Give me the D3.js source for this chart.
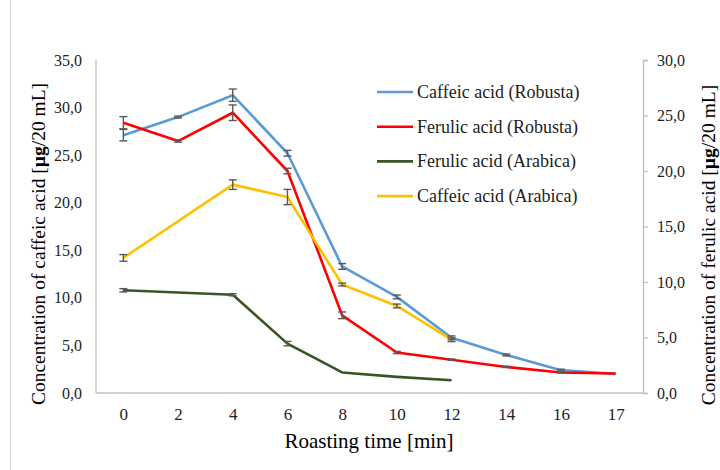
<!DOCTYPE html>
<html>
<head>
<meta charset="utf-8">
<script src="https://cdn.jsdelivr.net/npm/d3@7"></script>
<style>
  body { margin: 0; background: #fff; }
  svg { display: block; font-family: "Liberation Serif", "Times New Roman", serif; }
</style>
</head>
<body>
<div id="chart"></div>
<script>
// roasting time categories
const times = ['0', '2', '4', '6', '8', '10', '12', '14', '16', '17'];

// caffeic acid -> left axis, ferulic acid -> right axis
const caffeicRobusta = [27.1, 29.0, 31.3, 25.2, 13.3, 10.1, 5.8, 4.0, 2.4, 2.0];
const caffeicRobustaErr = [0.6, 0.1, 0.65, 0.3, 0.3, 0.2, 0.2, 0.1, 0.1, 0];
const ferulicRobusta = [24.35, 22.7, 25.25, 20.0, 7.0, 3.65, 3.0, 2.35, 1.85, 1.75];
const ferulicRobustaErr = [0.55, 0.1, 0.7, 0.25, 0.3, 0.1, 0.05, 0.05, 0.05, 0];
const ferulicArabica = [9.25, null, 8.85, 4.45, 1.85, 1.45, 1.15, null, null, null];
const ferulicArabicaErr = [0.15, 0, 0.1, 0.2, 0, 0, 0, 0, 0, 0];
const caffeicArabica = [14.2, null, 21.9, 20.6, 11.4, 9.15, 5.6, null, null, null];
const caffeicArabicaErr = [0.35, 0, 0.5, 0.8, 0.15, 0.2, 0.2, 0, 0, 0];

const leftTicks = [0, 5, 10, 15, 20, 25, 30, 35];
const rightTicks = [0, 5, 10, 15, 20, 25, 30];

const width = 720, height = 470;
const plot = { left: 96, right: 643, top: 60, bottom: 393 };

const svg = d3.select('#chart')
    .append('svg')
    .attr('width', width)
    .attr('height', height);

// chart frame edge
svg.append('line')
    .attr('x1', 10.5).attr('x2', 10.5)
    .attr('y1', 0).attr('y2', height)
    .attr('stroke', '#d9d9d9');

const x = d3.scalePoint()
    .domain(times)
    .range([plot.left, plot.right])
    .padding(0.5);

const yLeft = d3.scaleLinear().domain([0, 35]).range([plot.bottom, plot.top]);
const yRight = d3.scaleLinear().domain([0, 30]).range([plot.bottom, plot.top]);

const fmt = v => d3.format('.1f')(v).replace('.', ',');

// left axis (line only)
const gl = svg.append('g')
    .attr('transform', `translate(${plot.left},0)`)
    .call(d3.axisLeft(yLeft).tickValues(leftTicks).tickSize(0).tickPadding(14).tickFormat(fmt));

// right axis with outer ticks
const gr = svg.append('g')
    .attr('transform', `translate(${plot.right},0)`)
    .call(d3.axisRight(yRight).tickValues(rightTicks).tickSizeInner(5).tickSizeOuter(5).tickPadding(9).tickFormat(fmt));

// bottom axis
const gb = svg.append('g')
    .attr('transform', `translate(0,${plot.bottom})`)
    .call(d3.axisBottom(x).tickSize(0).tickPadding(15));

[gl, gr, gb].forEach(g => {
    g.select('.domain').attr('stroke', '#bfbfbf').attr('stroke-width', 1.3);
    g.selectAll('.tick line').attr('stroke', '#bfbfbf').attr('stroke-width', 1.3);
    g.selectAll('.tick text')
        .attr('fill', '#222')
        .style('font-size', '16px')
        .style('font-family', '"Liberation Serif", serif');
});
gb.selectAll('.tick text').style('font-size', '17px');
gl.select('.domain').attr('d', `M0,${plot.top}V${plot.bottom}`);
gb.select('.domain').attr('d', `M${plot.left},0H${plot.right}`);

// axis titles
const leftTitle = svg.append('text')
    .attr('transform', `translate(45,244) rotate(-90)`)
    .attr('text-anchor', 'middle')
    .style('font-size', '19.5px');
leftTitle.append('tspan').text('Concentration of caffeic acid [');
leftTitle.append('tspan').attr('font-weight', 'bold').text('µg');
leftTitle.append('tspan').text('/20 mL]');

const rightTitle = svg.append('text')
    .attr('transform', `translate(715,245) rotate(-90)`)
    .attr('text-anchor', 'middle')
    .style('font-size', '19.5px');
rightTitle.append('tspan').text('Concentration of ferulic acid [');
rightTitle.append('tspan').attr('font-weight', 'bold').text('µg');
rightTitle.append('tspan').text('/20 mL]');

svg.append('text')
    .attr('x', 369)
    .attr('y', 448)
    .attr('text-anchor', 'middle')
    .style('font-size', '21px')
    .text('Roasting time [min]');

// series
const series = [
    { name: 'Caffeic acid (Robusta)', values: caffeicRobusta, err: caffeicRobustaErr, y: yLeft, color: '#5b9bd5' },
    { name: 'Ferulic acid (Robusta)', values: ferulicRobusta, err: ferulicRobustaErr, y: yRight, color: '#ff0000' },
    { name: 'Ferulic acid (Arabica)', values: ferulicArabica, err: ferulicArabicaErr, y: yRight, color: '#375623' },
    { name: 'Caffeic acid (Arabica)', values: caffeicArabica, err: caffeicArabicaErr, y: yLeft, color: '#ffc000' }
];

const marks = svg.append('g');

series.forEach(s => {
    const pts = times.map((t, i) => ({ t, v: s.values[i], e: s.err[i] }))
        .filter(d => d.v !== null);

    const line = d3.line()
        .x(d => x(d.t))
        .y(d => s.y(d.v));

    marks.append('path')
        .datum(pts)
        .attr('fill', 'none')
        .attr('stroke', s.color)
        .attr('stroke-width', 2.6)
        .attr('stroke-linejoin', 'round')
        .attr('d', line);
});

// error bars drawn on top
series.forEach(s => {
    const pts = times.map((t, i) => ({ t, v: s.values[i], e: s.err[i] }))
        .filter(d => d.v !== null && d.e > 0);

    const eb = marks.append('g')
        .attr('stroke', '#595959')
        .attr('stroke-width', 1.4);

    pts.forEach(d => {
        const cx = x(d.t);
        const y1 = s.y(d.v + d.e), y2 = s.y(d.v - d.e);
        eb.append('line').attr('x1', cx).attr('x2', cx).attr('y1', y1).attr('y2', y2);
        eb.append('line').attr('x1', cx - 4).attr('x2', cx + 4).attr('y1', y1).attr('y2', y1);
        eb.append('line').attr('x1', cx - 4).attr('x2', cx + 4).attr('y1', y2).attr('y2', y2);
    });
});

// legend
const legend = svg.append('g').attr('transform', 'translate(377,92)');
series.forEach((s, i) => {
    const row = legend.append('g').attr('transform', `translate(0,${i * 34.7})`);
    row.append('line')
        .attr('x1', 0).attr('x2', 36)
        .attr('stroke', s.color)
        .attr('stroke-width', 2.6);
    row.append('text')
        .attr('x', 40)
        .attr('dy', '0.33em')
        .style('font-size', '18px')
        .attr('fill', '#222')
        .text(s.name);
});
</script>
</body>
</html>
